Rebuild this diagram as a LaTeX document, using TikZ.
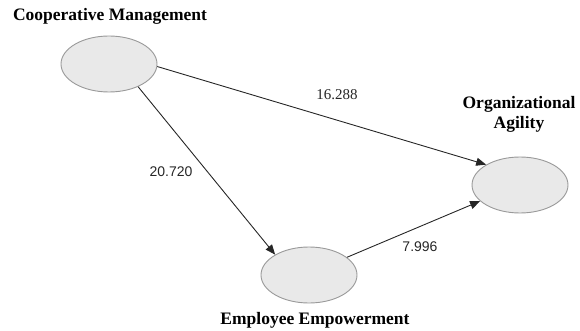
\documentclass[tikz,border=0pt]{standalone}
\usepackage{fontspec}
\setmainfont{Liberation Serif}
\newfontfamily\numsans{Liberation Sans}
\usetikzlibrary{shapes.geometric,arrows.meta}
\begin{document}
\begin{tikzpicture}[x=1pt,y=-1pt,
  latent/.style={ellipse,draw=gray!80,line width=0.9pt,fill=gray!17,minimum width=96pt,minimum height=56pt,inner sep=0pt},
  title/.style={font=\fontsize{17.5}{20}\selectfont\bfseries,align=center,inner sep=0pt},
  path/.style={draw=black!85,line width=0.9pt,-{Triangle[length=10pt,width=8pt]}},
  coef/.style={inner sep=0pt,text=black!85}]
\useasboundingbox (0,0) rectangle (580,331);
\node[latent] (cm) at (109,64) {};
\node[latent] (oa) at (520,185) {};
\node[latent] (ee) at (309,275) {};
\node[title] (tcm) at (110,16) {Cooperative Management};
\node[title] (toa) at (519,114) {Organizational\\Agility};
\node[title] (tee) at (315,320) {Employee Empowerment};
\draw[path] (cm.-3) -- (oa.149);
\draw[path] (cm.-38) -- (ee.149);
\draw[path] (ee.25) -- (oa.202);
\node[coef,font=\fontsize{15}{16}\selectfont] (l1) at (337,95) {16.288};
\node[coef,font=\numsans\fontsize{14}{16}\selectfont] (l2) at (171,172) {20.720};
\node[coef,font=\numsans\fontsize{14}{16}\selectfont] (l3) at (420,247) {7.996};
\end{tikzpicture}
\end{document}
